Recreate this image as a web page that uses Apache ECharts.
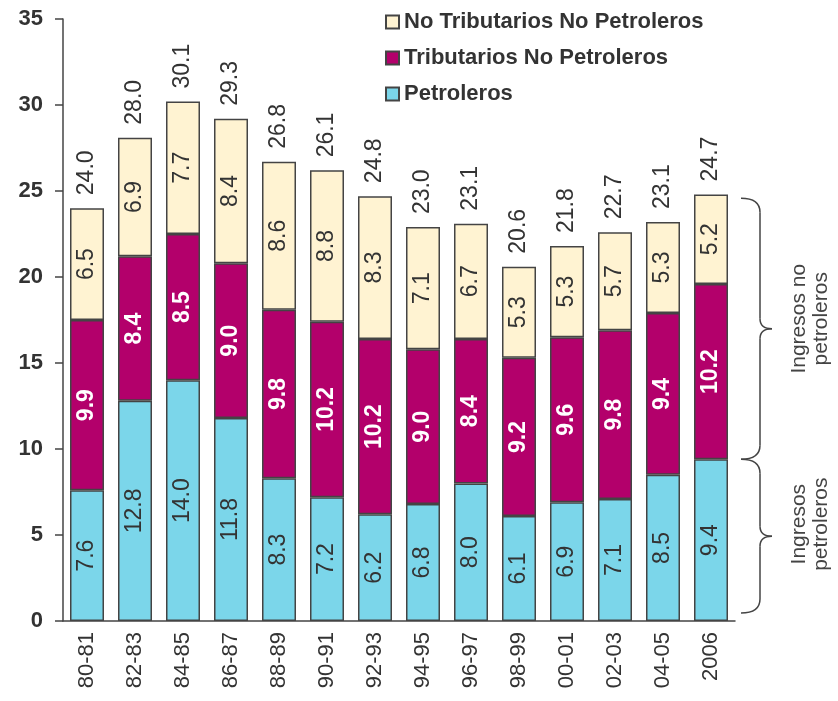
<!DOCTYPE html>
<html>
<head>
<meta charset="utf-8">
<script src="https://cdn.jsdelivr.net/npm/echarts@6/dist/echarts.min.js"></script>
<style>
  html, body { margin: 0; padding: 0; background: #fff; }
  #main { width: 838px; height: 701px; }
</style>
</head>
<body>
<div id="main"></div>
<script>
// datos
var periodos = ["80-81", "82-83", "84-85", "86-87", "88-89", "90-91", "92-93", "94-95", "96-97", "98-99", "00-01", "02-03", "04-05", "2006"];
var petroleros = [7.6, 12.8, 14.0, 11.8, 8.3, 7.2, 6.2, 6.8, 8.0, 6.1, 6.9, 7.1, 8.5, 9.4];
var tributarios = [9.9, 8.4, 8.5, 9.0, 9.8, 10.2, 10.2, 9.0, 8.4, 9.2, 9.6, 9.8, 9.4, 10.2];
var noTributarios = [6.5, 6.9, 7.7, 8.4, 8.6, 8.8, 8.3, 7.1, 6.7, 5.3, 5.3, 5.7, 5.3, 5.2];
var totales = [24.0, 28.0, 30.1, 29.3, 26.8, 26.1, 24.8, 23.0, 23.1, 20.6, 21.8, 22.7, 23.1, 24.7];
var yTicks = [0, 5, 10, 15, 20, 25, 30, 35];

var font = "'Liberation Sans', Arial, sans-serif";
var borde = "#444";

var myChart = echarts.init(document.getElementById("main"));

function etiqueta(color, weight) {
    return {
        show: true,
        position: "inside",
        rotate: 90,
        color: color,
        fontSize: 23,
        fontWeight: weight,
        fontFamily: font,
        formatter: function (p) { return p.value.toFixed(1); }
    };
}

var option = {
    animation: false,
    textStyle: { fontFamily: font },
    legend: {
        orient: "vertical",
        left: 380,
        top: 6,
        icon: "rect",
        itemWidth: 13,
        itemHeight: 13,
        itemGap: 14,
        data: ["No Tributarios No Petroleros", "Tributarios No Petroleros", "Petroleros"],
        textStyle: { fontSize: 22, fontWeight: "bold", color: "#333", fontFamily: font }
    },
    grid: { left: 63, right: 103, top: 19, bottom: 80 },
    xAxis: {
        type: "category",
        data: periodos,
        axisLine: { lineStyle: { color: "#444", width: 1.5 } },
        axisTick: { length: 8, lineStyle: { color: "#444", width: 1.5 } },
        axisLabel: {
            rotate: 90,
            margin: 11,
            fontSize: 22,
            color: "#333",
            fontFamily: font
        }
    },
    yAxis: {
        type: "value",
        min: yTicks[0],
        max: yTicks[yTicks.length - 1],
        interval: 5,
        splitLine: { show: false },
        axisLine: { show: true, lineStyle: { color: "#444", width: 1.5 } },
        axisTick: { show: true, length: 8, lineStyle: { color: "#444", width: 1.5 } },
        axisLabel: {
            margin: 20,
            fontSize: 22,
            fontWeight: "bold",
            color: "#333",
            fontFamily: font
        }
    },
    series: [
        {
            name: "Petroleros",
            type: "bar",
            stack: "total",
            barWidth: 34,
            data: petroleros,
            itemStyle: { color: "#7bd6ea", borderColor: borde, borderWidth: 1.5 },
            label: etiqueta("#333", "normal")
        },
        {
            name: "Tributarios No Petroleros",
            type: "bar",
            stack: "total",
            data: tributarios,
            itemStyle: { color: "#b3006b", borderColor: borde, borderWidth: 1.5 },
            label: etiqueta("#fff", "bold")
        },
        {
            name: "No Tributarios No Petroleros",
            type: "bar",
            stack: "total",
            data: noTributarios,
            itemStyle: { color: "#fff3d2", borderColor: borde, borderWidth: 1.5 },
            label: etiqueta("#333", "normal")
        },
        {
            name: "Total",
            type: "bar",
            stack: "total",
            data: totales.map(function () { return 0; }),
            itemStyle: { color: "rgba(0,0,0,0)", borderWidth: 0 },
            label: {
                show: true,
                position: "top",
                rotate: 90,
                align: "left",
                verticalAlign: "middle",
                distance: 13,
                fontSize: 23,
                color: "#333",
                fontFamily: font,
                formatter: function (p) { return totales[p.dataIndex].toFixed(1); }
            }
        }
    ]
};

myChart.setOption(option);

// llaves a la derecha
var ult = periodos.length - 1;
var yTop = myChart.convertToPixel({ gridIndex: 0 }, [ult, totales[ult]])[1] + 2;
var yMid = myChart.convertToPixel({ gridIndex: 0 }, [ult, petroleros[ult]])[1];
var yBot = myChart.convertToPixel({ gridIndex: 0 }, [ult, 0])[1] - 8;
var x0 = 741, xm = 760, xt = 772, r = 14;
var trazo = { stroke: "#444", lineWidth: 1.5, fill: null };

function curva(ax, ay, bx, by, cx, cy) {
    return { type: "bezierCurve", shape: { x1: ax, y1: ay, x2: bx, y2: by, cpx1: cx, cpy1: cy }, style: trazo };
}
function recta(ax, ay, bx, by) {
    return { type: "line", shape: { x1: ax, y1: ay, x2: bx, y2: by }, style: trazo };
}
function llave(y1, y2) {
    var ym = (y1 + y2) / 2;
    return [
        curva(x0, y1, xm, y1 + r, xm, y1),
        recta(xm, y1 + r, xm, ym - 10),
        curva(xm, ym - 10, xt, ym, xm, ym),
        curva(xt, ym, xm, ym + 10, xm, ym),
        recta(xm, ym + 10, xm, y2 - r),
        curva(xm, y2 - r, x0, y2, xm, y2)
    ];
}

var graficos = llave(yTop, yMid).concat(llave(yMid, yBot));
graficos.push({
    type: "text",
    x: 810,
    y: (yTop + yMid) / 2 - 10,
    rotation: Math.PI / 2,
    style: {
        text: "Ingresos no\npetroleros",
        fontSize: 21,
        fontFamily: font,
        fill: "#444",
        align: "center",
        verticalAlign: "middle",
        lineHeight: 22
    }
});
graficos.push({
    type: "text",
    x: 810,
    y: (yMid + yBot) / 2 - 12,
    rotation: Math.PI / 2,
    style: {
        text: "Ingresos\npetroleros",
        fontSize: 21,
        fontFamily: font,
        fill: "#444",
        align: "center",
        verticalAlign: "middle",
        lineHeight: 22
    }
});

myChart.setOption({ graphic: graficos });

window.addEventListener("resize", function () {
    myChart.resize();
});
</script>
</body>
</html>
